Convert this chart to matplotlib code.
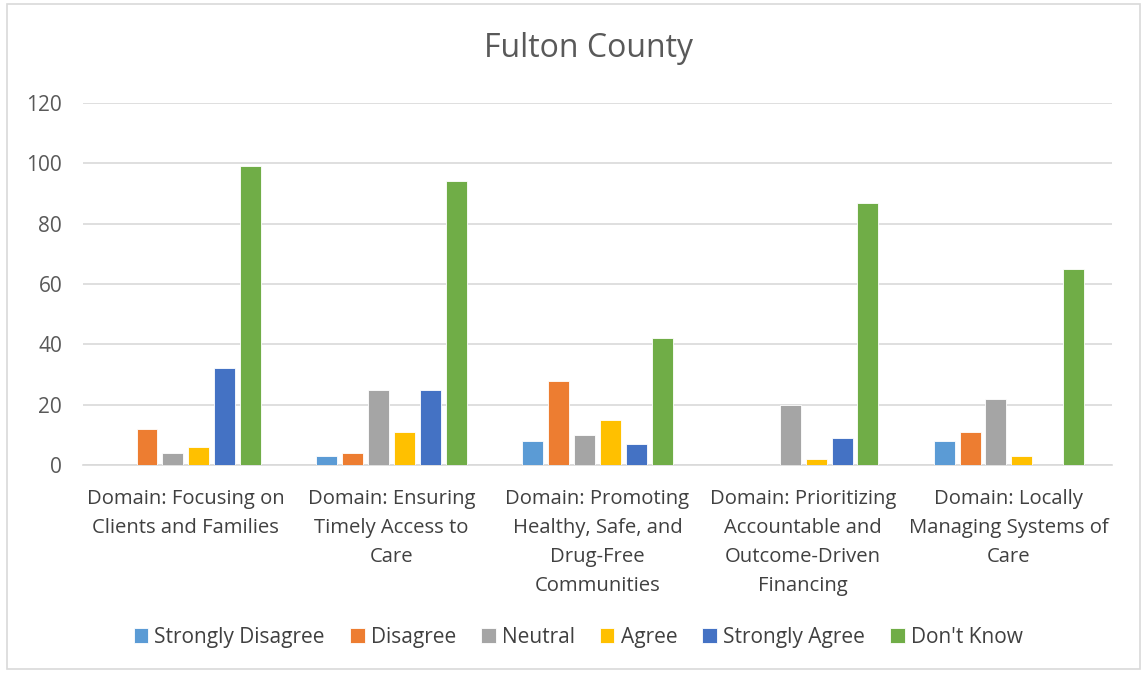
import matplotlib
matplotlib.use("Agg")
import matplotlib.pyplot as plt
import numpy as np
from matplotlib.patches import Rectangle

plt.rcParams['font.family'] = ['Open Sans', 'DejaVu Sans']

categories = ["Domain: Focusing on\nClients and Families",
              "Domain: Ensuring\nTimely Access to\nCare",
              "Domain: Promoting\nHealthy, Safe, and\nDrug-Free\nCommunities",
              "Domain: Prioritizing\nAccountable and\nOutcome-Driven\nFinancing",
              "Domain: Locally\nManaging Systems of\nCare"]
series_names = ["Strongly Disagree", "Disagree", "Neutral", "Agree", "Strongly Agree", "Don't Know"]
strongly_disagree = [0, 3, 8, 0, 8]
disagree = [12, 4, 28, 0, 11]
neutral = [4, 25, 10, 20, 22]
agree = [6, 11, 15, 2, 3]
strongly_agree = [32, 25, 7, 9, 0]
dont_know = [99, 94, 42, 87, 65]
colors = ["#5B9BD5", "#ED7D31", "#A5A5A5", "#FFC000", "#4472C4", "#70AD47"]

series = [strongly_disagree, disagree, neutral, agree, strongly_agree, dont_know]

fig = plt.figure(figsize=(11.45, 6.73), dpi=100)
ax = fig.add_axes([0.0725, 0.309, 0.8985, 0.538])

x = np.arange(len(categories))
step = 0.126
width = 0.102
for i, (vals, name, c) in enumerate(zip(series, series_names, colors)):
    ax.bar(x + (i - 2.5) * step, vals, width, color=c, label=name,
           edgecolor='white', linewidth=0.6, zorder=3)

ax.set_xlim(-0.5, len(categories) - 0.5)
ax.set_ylim(0, 120)
ax.set_yticks(range(0, 121, 20))
ax.grid(axis='y', color='#D9D9D9', linewidth=1.2, zorder=0)
for s in ['left', 'right', 'top']:
    ax.spines[s].set_visible(False)
ax.spines['bottom'].set_color('#D9D9D9')
ax.spines['bottom'].set_linewidth(1.2)
ax.tick_params(axis='both', length=0, labelsize=15, colors='#595959')
ax.tick_params(axis='y', pad=15)
ax.set_xticks(x)
ax.set_xticklabels(categories, fontsize=14.6, color='#404040', linespacing=1.6)
ax.tick_params(axis='x', pad=17)

fig.suptitle("Fulton County", x=0.514, y=0.952, fontsize=23, color='#595959')

ax.legend(loc='center', bbox_to_anchor=(0.505, 0.053), bbox_transform=fig.transFigure,
          ncol=6, frameon=False, fontsize=15, labelcolor='#404040',
          handlelength=0.7, handleheight=0.7, handletextpad=0.3, columnspacing=1.2)

fig.patches.append(Rectangle((0.006, 0.006), 0.99, 0.988, transform=fig.transFigure,
                             fill=False, edgecolor='#D9D9D9', linewidth=1.2))

fig.savefig("out.png", dpi=100)
